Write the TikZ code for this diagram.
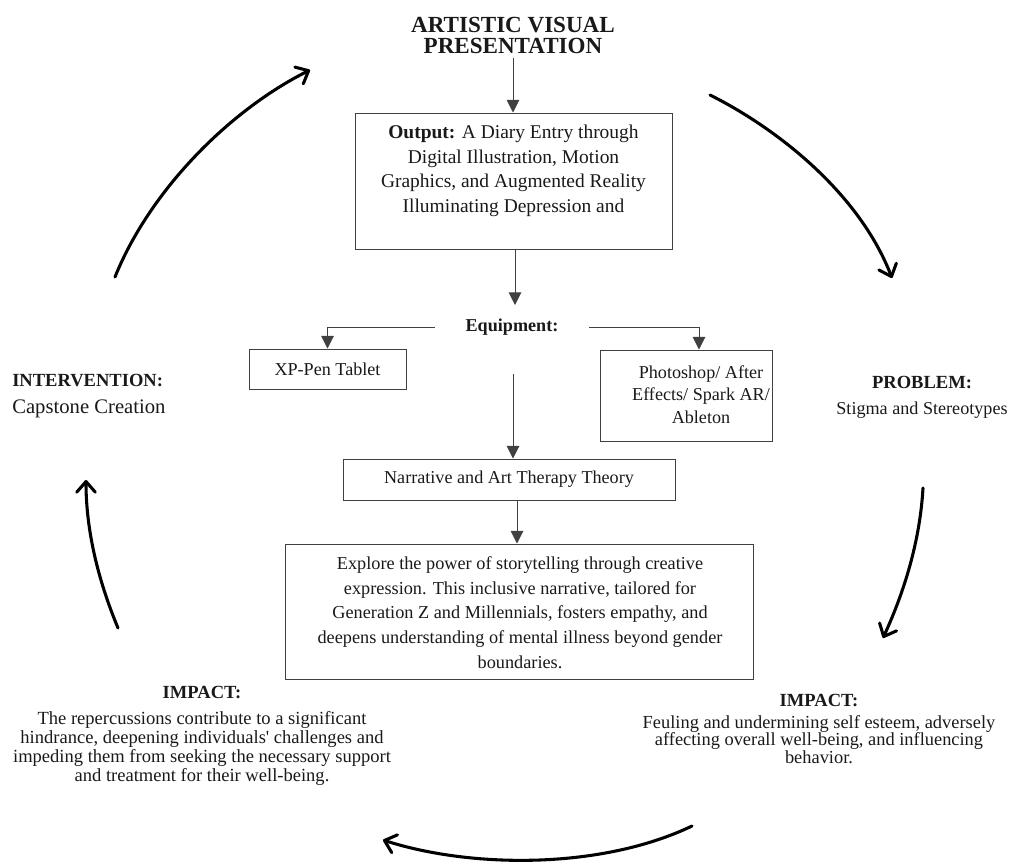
\documentclass[tikz,border=0pt]{standalone}
\usepackage{fontspec}
\setmainfont{Liberation Serif}
\newfontfamily\plainrm{Liberation Serif}
\usetikzlibrary{arrows.meta}
\begin{document}
\begin{tikzpicture}[x=0.75pt,y=-0.75pt,
  box/.style={draw=black!75, line width=0.75pt, inner sep=0pt, text=black!90},
  txt/.style={inner sep=0pt, align=center, text=black!90},
  thin/.style={draw=black!75, line width=0.75pt, -{Triangle[length=9.5pt,width=9.5pt]}},
  big/.style={line width=2.3pt, line cap=round, -{Straight Barb[length=8pt,width=14pt,line cap=round,line join=round]}}
]
\useasboundingbox (0,0) rectangle (1010,865);

% title
\node[txt, font=\bfseries\fontsize{17.3}{15.75}\selectfont] (title) at (513,35) {ARTISTIC VISUAL\\PRESENTATION};

% output box
\node[box, minimum width=237.75pt, minimum height=102pt] (out) at (513.5,181) {};
\node[txt, font=\fontsize{14.6}{18.5}\selectfont] (outt) at (513.5,171)
  {\textbf{Output:} A Diary Entry through\\Digital Illustration, Motion\\Graphics, and Augmented Reality\\Illuminating Depression and};

% equipment
\node[txt, font=\bfseries\fontsize{13.6}{16}\selectfont, inner xsep=23pt] (eq) at (512,327) {Equipment:};
\coordinate (eqin) at (515,305);

\node[box, minimum width=117.75pt, minimum height=30pt, font=\fontsize{13.6}{16}\selectfont] (xp) at (327.5,369) {XP-Pen Tablet};
\node[box, minimum width=129pt, minimum height=68.25pt] (ps) at (686,395.5) {};
\node[txt, font=\fontsize{13.6}{16.9}\selectfont] (pst) at (701,394.5) {Photoshop/ After\\Effects/ Spark AR/\\Ableton};

\coordinate (mid) at (513,374);
\node[box, minimum width=249pt, minimum height=30.75pt, font=\fontsize{13.6}{16}\selectfont] (nar) at (509,479.5) {Narrative and Art Therapy Theory};

\node[box, minimum width=351pt, minimum height=101.25pt] (exp) at (519,611.5) {};
\node[txt, font=\fontsize{13.7}{18.56}\selectfont] (expt) at (520,612.5)
  {Explore the power of storytelling through creative\\expression. This inclusive narrative, tailored for\\Generation Z and Millennials, fosters empathy, and\\deepens understanding of mental illness beyond gender\\boundaries.};

% side labels
\node[txt, anchor=west, font=\bfseries\fontsize{13.9}{16}\selectfont] (intv) at (12,380) {INTERVENTION:};
\node[txt, anchor=west, font=\fontsize{15.5}{18}\selectfont] (cap) at (12,409) {Capstone Creation};
\node[txt, font=\bfseries\fontsize{13.9}{16}\selectfont] (prob) at (922,382) {PROBLEM:};
\node[txt, font=\fontsize{13.6}{16}\selectfont] (stig) at (922,410) {Stigma and Stereotypes};

\node[txt, font=\bfseries\fontsize{13.9}{16}\selectfont] (imp1) at (202,692) {IMPACT:};
\node[txt, font=\fontsize{13.9}{14.25}\selectfont] (imp1t) at (202,748)
  {The repercussions contribute to a significant\\hindrance, deepening individuals{\plainrm'} challenges and\\impeding them from seeking the necessary support\\and treatment for their well-being.};
\node[txt, font=\bfseries\fontsize{13.9}{16}\selectfont] (imp2) at (819,700) {IMPACT:};
\node[txt, font=\fontsize{13.8}{13.2}\selectfont] (imp2t) at (819,739.5)
  {Feuling and undermining self esteem, adversely\\affecting overall well-being, and influencing\\behavior.};

% thin connectors
\draw[thin, shorten <=3pt] (title.south) -- (title.south |- out.north);
\draw[thin] (out.south -| eqin) -- (eqin);
\draw[thin] (eq.west) -| (xp.north);
\draw[thin] (eq.east) -| ([xshift=9.75pt]ps.north);
\draw[thin] (mid) -- (mid |- nar.north);
\draw[thin] ([xshift=6pt]nar.south) -- ([xshift=6pt]nar.south |- exp.north);

% big cycle arrows
\coordinate (a1s) at (115,277); \coordinate (a1e) at (310,70);
\coordinate (a2s) at (710,95);  \coordinate (a2e) at (892,278);
\coordinate (a3s) at (923,488); \coordinate (a3e) at (883,638);
\coordinate (a4s) at (692,826); \coordinate (a4e) at (383,840);
\coordinate (a5s) at (118,628); \coordinate (a5e) at (86,480);
\draw[big] (a1s) .. controls (150,190) and (230,110) .. (a1e);
\draw[big] (a2s) .. controls (780,130) and (860,195) .. (a2e);
\draw[big] (a3s) .. controls (920,540) and (905,590) .. (a3e);
\draw[big] (a4s) .. controls (600,870) and (470,868) .. (a4e);
\draw[big] (a5s) .. controls (98,580) and (86,530) .. (a5e);
\end{tikzpicture}
\end{document}
